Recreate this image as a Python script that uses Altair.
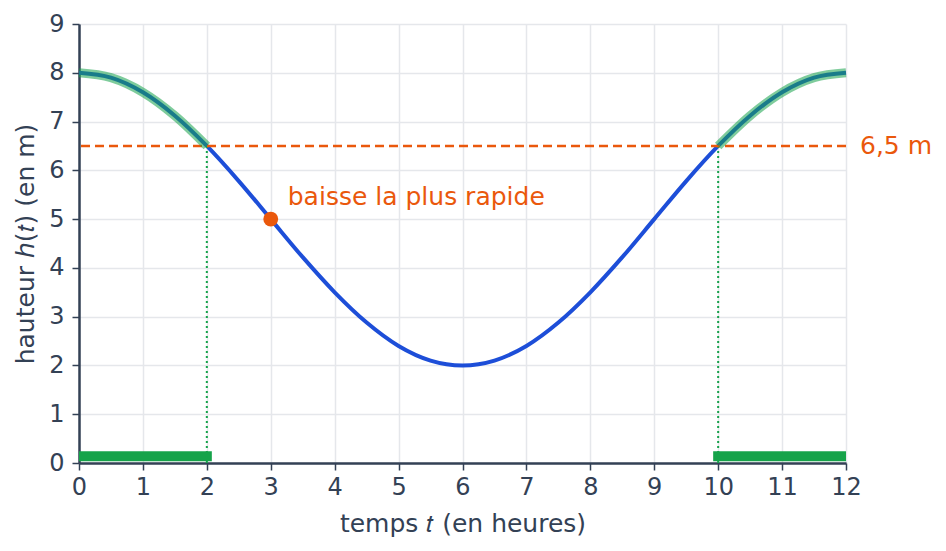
import altair as alt
import pandas as pd

# temps (heures) et hauteur (m)
t_vals = [0, 0.5, 1, 1.5, 2, 2.5, 3, 3.5, 4, 4.5, 5, 5.5, 6,
          6.5, 7, 7.5, 8, 8.5, 9, 9.5, 10, 10.5, 11, 11.5, 12]
h_vals = [8.0, 7.9, 7.6, 7.12, 6.5, 5.78, 5.0, 4.22, 3.5, 2.88, 2.4, 2.1, 2.0,
          2.1, 2.4, 2.88, 3.5, 4.22, 5.0, 5.78, 6.5, 7.12, 7.6, 7.9, 8.0]

seuil = 6.5
t_croisements = [2, 10]
intervalles_debut = [0, 10]
intervalles_fin = [2, 12]
point_t = [3]
point_h = [5]
point_label = ["baisse la plus rapide"]
seuil_label = ["6,5 m"]
x_ticks = list(range(0, 13))
y_ticks = list(range(0, 10))

SLATE = "#334155"
BLUE = "#1d4ed8"
ORANGE = "#ea580c"
GREEN = "#16a34a"
FONT = "DejaVu Sans"

df = pd.DataFrame({"t": t_vals, "h": h_vals})
seg = []
for i, (a, b) in enumerate(zip(intervalles_debut, intervalles_fin)):
    for tv, hv in zip(t_vals, h_vals):
        if a <= tv <= b:
            seg.append({"t": tv, "h": hv, "seg": i})
df_seg = pd.DataFrame(seg)
df_int = pd.DataFrame({"a": intervalles_debut, "b": intervalles_fin})
df_cross = pd.DataFrame({"t": t_croisements, "y0": [0] * len(t_croisements), "y1": [seuil] * len(t_croisements)})
df_pt = pd.DataFrame({"t": point_t, "h": point_h, "label": point_label})
df_seuil = pd.DataFrame({"t": [12], "h": [seuil], "label": seuil_label})

xs = alt.Scale(domain=[0, 12], nice=False)
ys = alt.Scale(domain=[0, 9], nice=False)

xax = alt.Axis(values=x_ticks, title="temps 𝑡 (en heures)", format="d", grid=True,
               labelFlush=False, labelPadding=5, titlePadding=12)
yax = alt.Axis(values=y_ticks, title="hauteur ℎ(𝑡) (en m)", format="d", grid=True,
               labelPadding=8, titlePadding=10)

base = alt.Chart(df)

curve = base.mark_line(color=BLUE, strokeWidth=4, interpolate="monotone").encode(
    x=alt.X("t:Q", scale=xs, axis=xax),
    y=alt.Y("h:Q", scale=ys, axis=yax),
)

halo = alt.Chart(df_seg).mark_line(color=GREEN, strokeWidth=9, opacity=0.55,
                                   interpolate="monotone", strokeCap="butt").encode(
    x=alt.X("t:Q", scale=xs), y=alt.Y("h:Q", scale=ys), detail="seg:N"
)

seuil_rule = alt.Chart(df_seuil).mark_rule(color=ORANGE, strokeWidth=2.5, strokeDash=[9, 5]).encode(
    y=alt.Y("h:Q", scale=ys)
)

cross = alt.Chart(df_cross).mark_rule(color=GREEN, strokeWidth=2, strokeDash=[2, 3]).encode(
    x=alt.X("t:Q", scale=xs), y=alt.Y("y0:Q", scale=ys), y2="y1:Q"
)

bars = alt.Chart(df_int).mark_rule(color=GREEN, strokeWidth=10, strokeCap="square", clip=True).encode(
    x=alt.X("a:Q", scale=xs), x2="b:Q", y=alt.datum(0.14)
)

pt = alt.Chart(df_pt).mark_point(filled=True, color=ORANGE, size=220, opacity=1, shape="circle").encode(
    x=alt.X("t:Q", scale=xs), y=alt.Y("h:Q", scale=ys)
)

pt_txt = alt.Chart(df_pt).mark_text(color=ORANGE, font=FONT, fontSize=25, align="left",
                                    baseline="middle", dx=17, dy=-22).encode(
    x=alt.X("t:Q", scale=xs), y=alt.Y("h:Q", scale=ys), text="label:N"
)

seuil_txt = alt.Chart(df_seuil).mark_text(color=ORANGE, font=FONT, fontSize=25, align="left",
                                          baseline="middle", dx=14).encode(
    x=alt.X("t:Q", scale=xs), y=alt.Y("h:Q", scale=ys), text="label:N"
)

chart = alt.layer(curve, bars, cross, seuil_rule, halo, pt, pt_txt, seuil_txt).properties(
    width=767, height=439,
    autosize=alt.AutoSizeParams(type="none"),
    padding={"left": 71, "top": 16, "right": 92, "bottom": 80},
).configure_view(stroke=None).configure_axis(
    domainColor=SLATE, domainWidth=2.5, tickColor=SLATE, tickWidth=1.5, tickSize=7,
    labelColor=SLATE, labelFont=FONT, labelFontSize=24,
    titleColor=SLATE, titleFont=FONT, titleFontSize=25, titleFontWeight="normal",
    gridColor="#e5e7eb", gridWidth=1.5,
)

chart.save("out.html", embed_options={"renderer": "svg", "actions": False})
